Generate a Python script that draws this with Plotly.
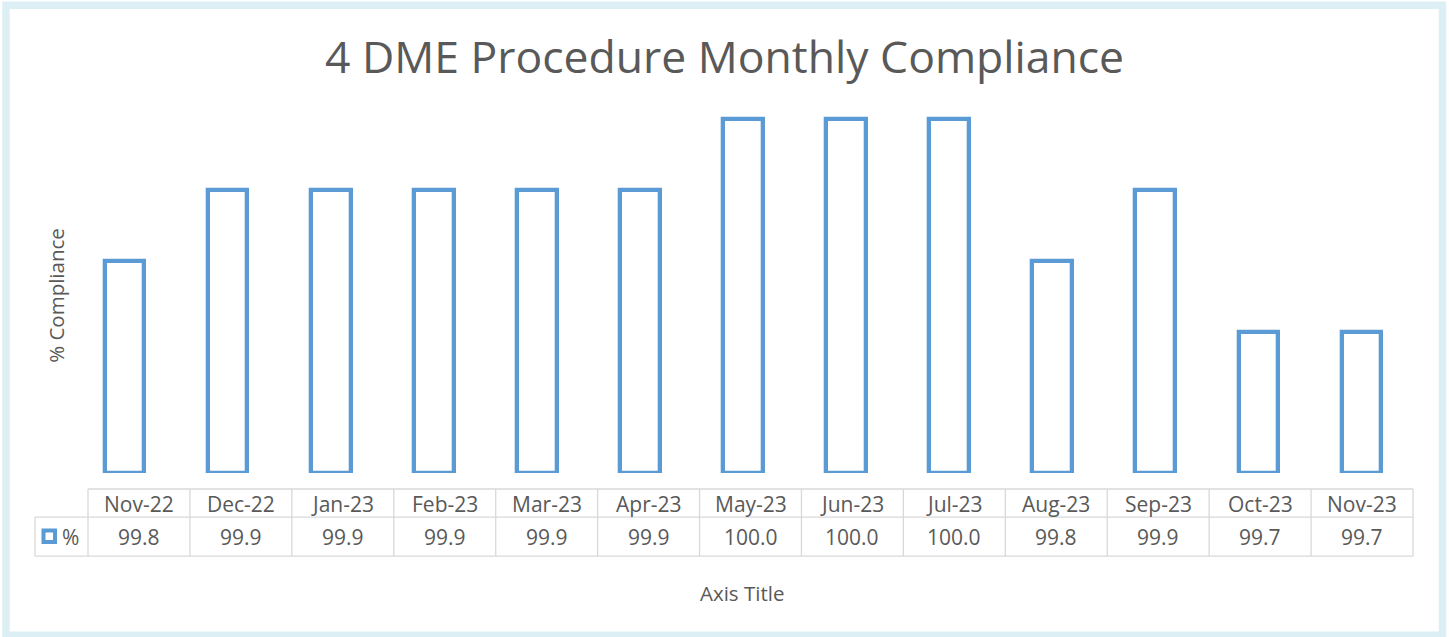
import plotly.graph_objects as go

months = ["Nov-22", "Dec-22", "Jan-23", "Feb-23", "Mar-23", "Apr-23", "May-23",
          "Jun-23", "Jul-23", "Aug-23", "Sep-23", "Oct-23", "Nov-23"]
compliance = [99.8, 99.9, 99.9, 99.9, 99.9, 99.9, 100.0, 100.0, 100.0, 99.8, 99.9, 99.7, 99.7]
series_name = "%"
title_text = "4 DME Procedure Monthly Compliance"
y_title = "% Compliance"
x_title = "Axis Title"

W, H = 1449, 637
BLUE = "#5B9BD5"
GREY_TXT = "#595959"
GRID = "#D9D9D9"
FONT = "Open Sans"

# plot-area pixel geometry
PL, PR, PT, PB = 73, 1416, 84.3, 473
ml, mr, mt, mb = PL, W - PR, PT, H - PB


def px_x(p):
    return (p - PL) / (PR - PL)


def px_y(p):
    return (PB - p) / (PB - PT)


idx = list(range(len(months)))

fig = go.Figure()
fig.add_trace(go.Bar(
    x=idx, y=[round(v - 99.5, 3) for v in compliance], base=99.5,
    width=0.385,
    marker=dict(color="white", line=dict(color=BLUE, width=4.3)),
    name=series_name, hoverinfo="skip", cliponaxis=False,
))

col_w = (1413 - 88) / 13.0
x2_lo = -0.5 - (88 - 86) / col_w
x2_hi = 12.5 + (PR - 1413) / col_w

fig.update_layout(
    width=W, height=H,
    margin=dict(l=ml, r=mr, t=mt, b=mb, pad=0),
    paper_bgcolor="white", plot_bgcolor="rgba(0,0,0,0)",
    showlegend=False,
    bargap=0,
    title=dict(text=title_text, x=0.5, xref="container", xanchor="center",
               y=1 - 57 / H, yref="container", yanchor="middle",
               font=dict(family=FONT, size=44.5, color=GREY_TXT)),
    xaxis=dict(domain=[0, px_x(1413)], range=[-0.5, 12.5], visible=False, fixedrange=True),
    xaxis2=dict(domain=[px_x(86), 1], range=[x2_lo, x2_hi], visible=False, anchor="free",
                position=0, fixedrange=True),
    yaxis=dict(range=[99.5, 100.05], visible=False, fixedrange=True),
    font=dict(family=FONT, color=GREY_TXT),
)

shapes = []
annotations = []
line_style = dict(color=GRID, width=1.3)

# table horizontal lines
for py in (489, 517, 556):
    shapes.append(dict(type="line", xref="x2", yref="paper", x0=-0.5, x1=12.5,
                       y0=px_y(py), y1=px_y(py), line=line_style))
# table vertical lines
for i in range(len(months) + 1):
    xv = i - 0.5
    shapes.append(dict(type="line", xref="x2", yref="paper", x0=xv, x1=xv,
                       y0=px_y(489), y1=px_y(556), line=line_style))
# legend cell
for py in (517, 556):
    shapes.append(dict(type="line", xref="paper", yref="paper", x0=px_x(35), x1=px_x(88),
                       y0=px_y(py), y1=px_y(py), line=line_style))
shapes.append(dict(type="line", xref="paper", yref="paper", x0=px_x(35), x1=px_x(35),
                   y0=px_y(517), y1=px_y(556), line=line_style))
# legend key square
shapes.append(dict(type="rect", xref="paper", yref="paper", x0=px_x(43.5), x1=px_x(55),
                   y0=px_y(530.5), y1=px_y(542), fillcolor="white",
                   line=dict(color=BLUE, width=4)))
# outer chart border
shapes.append(dict(type="rect", xref="paper", yref="paper", x0=px_x(6), x1=px_x(1442.5),
                   y0=px_y(5.5), y1=px_y(635), fillcolor="rgba(0,0,0,0)",
                   line=dict(color="#DCEFF5", width=7.5), layer="below"))

for i, (m, v) in enumerate(zip(months, compliance)):
    annotations.append(dict(x=i, y=px_y(503.5), xref="x2", yref="paper", text=m,
                            showarrow=False, xanchor="center", yanchor="middle",
                            font=dict(family=FONT, size=21, color=GREY_TXT)))
    annotations.append(dict(x=i, y=px_y(537), xref="x2", yref="paper", text=f"{v:.1f}",
                            showarrow=False, xanchor="center", yanchor="middle",
                            font=dict(family=FONT, size=21, color=GREY_TXT)))
annotations.append(dict(x=px_x(60), y=px_y(537), xref="paper", yref="paper", text=series_name,
                        showarrow=False, xanchor="left", yanchor="middle",
                        font=dict(family=FONT, size=21, color=GREY_TXT)))
annotations.append(dict(x=px_x(56), y=px_y(296), xref="paper", yref="paper", text=y_title,
                        showarrow=False, textangle=-90, xanchor="center", yanchor="middle",
                        font=dict(family=FONT, size=20.5, color=GREY_TXT)))
annotations.append(dict(x=px_x(742), y=px_y(593), xref="paper", yref="paper", text=x_title,
                        showarrow=False, xanchor="center", yanchor="middle",
                        font=dict(family=FONT, size=20.5, color=GREY_TXT)))

fig.update_layout(shapes=shapes, annotations=annotations)
fig.write_html("out.html", config={"displayModeBar": False},
               post_script="document.body.style.margin='0px';")
